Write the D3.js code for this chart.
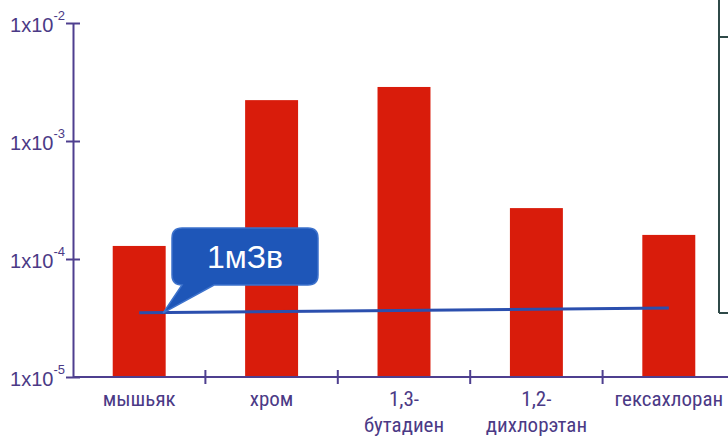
<!DOCTYPE html>
<html><head><meta charset="utf-8">
<script src="https://cdn.jsdelivr.net/npm/d3@7"></script>
<style>
body{margin:0;background:#fff;}
svg{display:block;}
</style></head>
<body>
<svg id="chart" width="728" height="437"></svg>
<script>
const categories = ["мышьяк", "хром", "1,3-\nбутадиен", "1,2-\nдихлорэтан", "гексахлоран"];
const values = [1.29e-4, 2.22e-3, 2.87e-3, 2.7e-4, 1.6e-4];
const tickValues = [1e-5, 1e-4, 1e-3, 1e-2];
const tickExponents = ["-5", "-4", "-3", "-2"];
const refLine = [3.5e-5, 3.85e-5]; // values at first and last category
const refLabel = "1мЗв";

const svg = d3.select("#chart");
const axisColor = "#4e3f8f";
const textColor = "#4b3a86";
const barColor = "#d91c0b";
const lineColor = "#2b4fae";

const x = d3.scaleBand().domain(categories).range([73, 735]).paddingInner(0.6).paddingOuter(0.3);
const y = d3.scaleLog().domain([1e-5, 1e-2]).range([377, 23]);

// bars
svg.selectAll("rect.bar").data(values).join("rect")
  .attr("class","bar")
  .attr("x",(d,i)=>x(categories[i]))
  .attr("width",x.bandwidth())
  .attr("y",d=>y(d))
  .attr("height",d=>y(1e-5)-y(d))
  .attr("fill",barColor);

// y axis
const yAxis = d3.axisLeft(y).tickValues(tickValues).tickSize(0).tickFormat("");
const gy = svg.append("g").attr("transform","translate(73,0)").call(yAxis);
gy.select(".domain").attr("stroke",axisColor).attr("stroke-width",2);
gy.selectAll(".tick line").remove();
gy.selectAll(".tick").each(function(d,i){
  const g = d3.select(this);
  g.append("line").attr("x1",-7).attr("x2",7).attr("stroke",axisColor).attr("stroke-width",2);
  const t = g.append("text").attr("x",-8).attr("y",8).attr("text-anchor","end")
    .attr("fill",textColor).attr("font-family","Liberation Sans, Arial, sans-serif").attr("font-size",20);
  t.append("tspan").text("1x10");
  t.append("tspan").attr("dy",-12).attr("font-size",13).text(tickExponents[i]);
});

// x axis
const gx = svg.append("g").attr("transform","translate(0,377)");
gx.append("line").attr("x1",73).attr("x2",728).attr("stroke",axisColor).attr("stroke-width",2);
const step = x.step();
categories.slice(0,-1).forEach((c,i)=>{
  const tx = x(c)+x.bandwidth()+step*0.3;
  gx.append("line").attr("x1",tx).attr("x2",tx).attr("y1",-7).attr("y2",7).attr("stroke",axisColor).attr("stroke-width",2);
});
categories.forEach(c=>{
  const cx = x(c)+x.bandwidth()/2;
  const lines = c.split("\n");
  const t = svg.append("text").attr("text-anchor","middle").attr("fill",textColor)
    .attr("font-family","Liberation Sans Narrow, Roboto Condensed, Arial Narrow, sans-serif").attr("font-size",21);
  lines.forEach((l,k)=>{
    t.append("tspan").attr("x",cx).attr("y",406+k*26).text(l);
  });
});

// reference line
const x0 = x(categories[0])+x.bandwidth()/2;
const x1 = x(categories[categories.length-1])+x.bandwidth()/2;
svg.append("line").attr("x1",x0).attr("y1",y(refLine[0])).attr("x2",x1).attr("y2",y(refLine[1]))
  .attr("stroke",lineColor).attr("stroke-width",3);

// callout
const bx=172, by=228, bw=146, bh=57, r=10;
const tipX = x0+24, tipY = y(refLine[0]);
const path = `M${bx+r},${by} H${bx+bw-r} Q${bx+bw},${by} ${bx+bw},${by+r} V${by+bh-r} Q${bx+bw},${by+bh} ${bx+bw-r},${by+bh}
 H${bx+42} L${tipX},${tipY} L${bx+10},${by+bh} H${bx+r} Q${bx},${by+bh} ${bx},${by+bh-r} V${by+r} Q${bx},${by} ${bx+r},${by} Z`;
svg.append("path").attr("d",path).attr("fill","#1e56b8").attr("stroke","#3d72cc").attr("stroke-width",1.5);
svg.append("text").attr("x",bx+bw/2).attr("y",by+bh/2+11).attr("text-anchor","middle")
  .attr("fill","#fff").attr("font-family","Liberation Sans, Arial, sans-serif").attr("font-size",32).text(refLabel);

// partial frame on the right
const frameColor = "#2f4a48";
svg.append("line").attr("x1",719).attr("x2",719).attr("y1",0).attr("y2",313).attr("stroke",frameColor).attr("stroke-width",2);
svg.append("line").attr("x1",719).attr("x2",728).attr("y1",37).attr("y2",37).attr("stroke",frameColor).attr("stroke-width",2);
svg.append("line").attr("x1",719).attr("x2",728).attr("y1",313).attr("y2",313).attr("stroke",frameColor).attr("stroke-width",2);
</script>
</body></html>
